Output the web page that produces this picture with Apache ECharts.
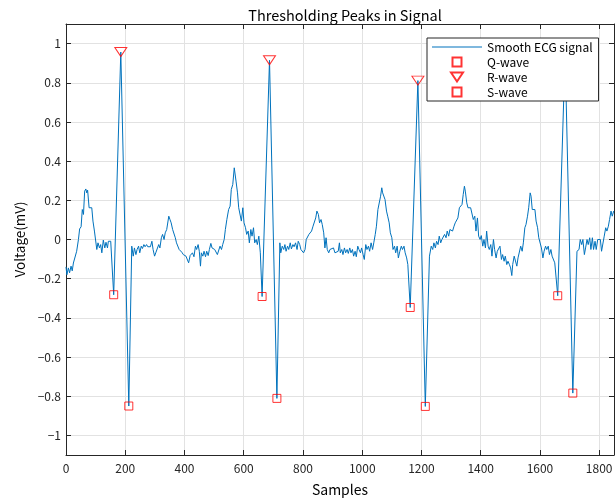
<!DOCTYPE html>
<html><head><meta charset="utf-8">
<script src="https://cdn.jsdelivr.net/npm/echarts@6/dist/echarts.min.js"></script>
<style>html,body{margin:0;padding:0;background:#fff}#c{width:615px;height:498px}</style>
</head><body><div id="c"></div>
<script>
const sampleIdx = [0,3,8,12,17,21,25,30,36,42,46,51,55,59,63,67,70,73,78,82,87,91,96,100,104,108,113,117,121,126,131,135,140,143,148,151,155,161,185,212,222,
227,231,236,240,245,249,254,258,263,267,272,276,281,285,290,294,299,303,308,313,317,322,326,331,335,340,344,347,351,355,360,364,369,373,378,382,387,391,396,400,405,409,414,419,423,427,432,437,441,
446,450,454,457,462,466,471,475,480,484,489,493,498,502,507,511,516,520,525,529,534,538,543,545,549,554,558,563,568,571,574,579,583,588,592,597,601,606,610,615,619,624,628,633,637,642,646,651,656,662,687,712,722,
725,730,735,739,743,748,752,757,761,766,770,775,780,784,789,793,798,802,807,811,816,820,825,829,834,838,843,847,852,856,861,865,870,874,878,882,887,891,897,903,908,914,
919,923,926,931,935,940,944,949,953,958,962,967,971,976,980,985,989,994,998,1003,1007,1012,1016,1021,1025,1030,1035,1039,1044,1048,1053,1057,1062,1066,1069,1073,1077,1082,1086,1091,1095,1100,1104,1109,1113,1118,1122,1127,1132,1136,1141,1145,1150,1154,1162,1188,1213,1227,
1233,1238,1242,1247,1251,1256,1260,1265,1269,1274,1278,1283,1287,1292,1296,1301,1305,1310,1314,1319,1323,1328,1332,1337,1341,1345,1348,1353,1357,1362,
1366,1371,1375,1380,1384,1389,1393,1398,1402,1407,1411,1416,1420,1425,1429,1434,1438,1443,1447,1452,1456,1461,1465,1470,1474,1479,1483,1488,1492,1497,1501,1505,1508,1513,1517,1522,1526,1531,1535,1540,1544,1549,1553,1558,1562,1567,1570,1574,1578,1583,1587,1592,1596,1601,1605,1610,1614,1619,1623,1628,1632,1637,1641,1646,1650,1660,1685,1711,1725,
1732,1736,1741,1745,1750,1754,1759,1763,1768,1772,1777,1781,1786,1790,1795,1799,1804,1808,1813,1817,1822,1826,1831,1835,1840,1844,1849];

const ecgValues = [-0.14,-0.18,-0.145,-0.17,-0.136,-0.16,-0.12,-0.11,-0.06,0,0.054,0.065,0.153,0.128,0.247,0.258,0.238,0.252,0.162,0.153,0.162,0.094,0.043,0.037,-0.051,-0.017,-0.043,-0.026,-0.068,-0.003,-0.043,-0.014,-0.043,-0.009,-0.017,-0.009,-0.12,-0.282,0.957,-0.85,-0.034,
-0.085,-0.043,-0.077,-0.051,-0.034,-0.068,-0.034,-0.046,-0.026,-0.037,-0.026,-0.037,-0.031,-0.037,-0.009,-0.051,-0.085,-0.068,-0.06,-0.026,-0.043,0.009,0.026,0,0.034,0.051,0.051,0.119,0.102,0.085,0.051,0.06,0.009,-0.017,-0.014,-0.051,-0.043,-0.065,-0.077,-0.072,-0.085,-0.082,-0.119,-0.082,-0.085,-0.068,-0.088,-0.034,-0.051,
-0.026,-0.06,-0.136,-0.068,-0.085,-0.06,-0.088,-0.06,-0.082,-0.051,-0.02,-0.043,-0.034,-0.051,-0.048,-0.077,-0.082,-0.034,-0.051,-0.026,0,0.051,0.102,0.099,0.153,0.17,0.255,0.281,0.366,0.357,0.298,0.238,0.162,0.153,0.094,0.162,0.085,0.06,0.026,0.043,-0.017,0.051,0.017,0.06,-0.017,0,-0.026,0.017,-0.068,-0.291,0.915,-0.811,-0.017,
-0.068,-0.034,-0.051,-0.026,-0.06,-0.034,-0.051,-0.017,-0.048,-0.026,-0.037,-0.017,-0.051,-0.009,-0.026,-0.051,-0.043,-0.068,-0.051,0,0.009,0.026,0.017,0.043,0.068,0.071,0.11,0.145,0.128,0.085,0.102,0.077,0.034,-0.043,0.009,-0.051,-0.068,-0.051,-0.06,-0.043,-0.068,-0.06,
-0.06,-0.017,-0.068,-0.051,-0.077,-0.043,-0.068,-0.051,-0.071,-0.043,-0.068,-0.051,-0.085,-0.06,-0.088,-0.034,-0.051,-0.068,-0.043,-0.077,-0.102,-0.026,-0.051,-0.034,-0.06,-0.017,-0.051,-0.017,0.026,0.068,0.153,0.145,0.221,0.264,0.238,0.247,0.204,0.145,0.119,0.085,0.034,0.009,-0.051,-0.034,-0.068,-0.034,-0.094,-0.06,-0.034,-0.051,-0.034,-0.068,-0.094,-0.128,-0.347,0.811,-0.852,-0.085,
-0.034,-0.051,-0.017,-0.043,-0.009,-0.026,0.017,-0.017,0,-0.009,0.026,0.009,0.043,0.017,0.051,0.06,0.043,0.068,0.085,0.077,0.11,0.162,0.153,0.179,0.23,0.272,0.247,0.187,0.162,0.162,
0.162,0.153,0.102,0.119,0.043,0.11,0.017,0,0.02,-0.034,0,-0.043,0.043,-0.034,-0.051,-0.026,-0.085,0,-0.051,-0.094,-0.06,-0.068,-0.034,-0.102,-0.077,-0.111,-0.085,-0.128,-0.111,-0.128,-0.145,-0.184,-0.128,-0.085,-0.085,-0.136,-0.094,-0.102,-0.034,-0.06,-0.017,0.06,0.077,0.119,0.162,0.238,0.221,0.153,0.162,0.153,0.094,0.06,0.009,0,-0.043,-0.094,-0.06,-0.034,-0.051,-0.034,-0.077,-0.051,-0.085,-0.094,-0.119,-0.287,0.95,-0.784,-0.06,
-0.051,0,-0.026,0,-0.077,-0.043,0,-0.026,0.009,-0.051,0.009,-0.051,-0.009,-0.051,0,0.009,0,-0.06,-0.068,0.017,0.06,0.043,0.068,0.102,0.145,0.119,0.145];

const qIdx = [161, 662, 1162, 1660];
const qVal = [-0.282, -0.291, -0.347, -0.287];
const rIdx = [185, 687, 1188, 1685];
const rVal = [0.957, 0.915, 0.811, 0.95];
const sIdx = [212, 712, 1213, 1711];
const sVal = [-0.85, -0.811, -0.852, -0.784];

const xTicks = [0, 200, 400, 600, 800, 1000, 1200, 1400, 1600, 1800];
const yTicks = [-1, -0.8, -0.6, -0.4, -0.2, 0, 0.2, 0.4, 0.6, 0.8, 1];
const seriesNames = ['Smooth ECG signal', 'Q-wave', 'R-wave', 'S-wave'];

const FONT = '"Noto Sans CJK JP", "Noto Sans", sans-serif';
const AX = '#262626';
const SQUARE = 'path://M0,0L10,0L10,10L0,10Z';
const TRI_DOWN = 'path://M0,0L12,0L6,9Z';
const LINE_ICON = 'path://M0,0L50,0L50,1L0,1Z';
const pairs = (xs, ys) => xs.map((x, i) => [x, ys[i]]);
const fmtY = v => String(v).replace('-', '\u2212');
const fmtX = v => String(v);

const chart = echarts.init(document.getElementById('c'), null, {renderer: 'canvas'});
const markerStyle = {color: 'rgba(0,0,0,0)', borderColor: '#ff0000', borderWidth: 1};
const baseX = {
  type: 'value', min: 0, max: 1850, interval: 200,
  axisLine: {show: true, onZero: false, lineStyle: {color: AX, width: 1}},
  axisTick: {show: true, inside: true, length: 5, customValues: xTicks, lineStyle: {color: AX}},
};
const baseY = {
  type: 'value', min: -1.1, max: 1.1,
  axisLine: {show: true, onZero: false, lineStyle: {color: AX, width: 1}},
  axisTick: {show: true, inside: true, length: 5, customValues: yTicks, lineStyle: {color: AX}},
};
chart.setOption({
  animation: false,
  backgroundColor: '#fff',
  title: {
    text: 'Thresholding Peaks in Signal', left: 340, top: 3, textAlign: 'center',
    textStyle: {fontFamily: FONT, fontSize: 14.5, fontWeight: 'normal', color: '#000'}
  },
  grid: {left: 66, right: 1, top: 24, bottom: 43, containLabel: false, outerBoundsMode: 'none'},
  xAxis: [
    Object.assign({}, baseX, {
      position: 'bottom',
      axisLabel: {show: true, customValues: xTicks, formatter: fmtX, color: AX, fontFamily: FONT, fontSize: 12, margin: 7},
      splitLine: {show: true, lineStyle: {color: '#e2e2e2', width: 1}},
      name: 'Samples', nameLocation: 'middle', nameGap: 28,
      nameTextStyle: {fontFamily: FONT, fontSize: 14, color: '#000'}
    }),
    Object.assign({}, baseX, {position: 'top', axisLabel: {show: false}, splitLine: {show: false}})
  ],
  yAxis: [
    Object.assign({}, baseY, {
      position: 'left',
      axisLabel: {show: true, customValues: yTicks, color: AX, fontFamily: FONT, fontSize: 12, margin: 5, formatter: fmtY},
      splitLine: {show: true, lineStyle: {color: '#e2e2e2', width: 1}},
      name: 'Voltage(mV)', nameLocation: 'middle', nameGap: 36, nameRotate: 90,
      nameTextStyle: {fontFamily: FONT, fontSize: 13.5, color: '#000'}
    }),
    Object.assign({}, baseY, {position: 'right', axisLabel: {show: false}, splitLine: {show: false}})
  ],
  legend: {
    orient: 'vertical', left: 427, top: 38,
    itemWidth: 50, itemHeight: 9, itemGap: 0,
    padding: [1.5, 6, 1.5, 5],
    backgroundColor: '#fff', borderColor: AX, borderWidth: 1, borderRadius: 0,
    selectedMode: false, z: 10, symbolKeepAspect: true,
    textStyle: {fontFamily: FONT, fontSize: 12, color: '#000', lineHeight: 15},
    data: [
      {name: seriesNames[0], icon: LINE_ICON, itemStyle: {color: '#0072BD', borderWidth: 0}},
      {name: seriesNames[1], icon: SQUARE},
      {name: seriesNames[2], icon: TRI_DOWN},
      {name: seriesNames[3], icon: SQUARE}
    ]
  },
  series: [
    {
      name: seriesNames[0], type: 'line', data: pairs(sampleIdx, ecgValues),
      symbol: 'none', lineStyle: {color: '#0072BD', width: 1}, itemStyle: {color: '#0072BD'}, z: 2
    },
    {
      name: seriesNames[1], type: 'scatter', data: pairs(qIdx, qVal),
      symbol: SQUARE, symbolSize: 8, itemStyle: markerStyle, z: 3
    },
    {
      name: seriesNames[2], type: 'scatter', data: pairs(rIdx, rVal),
      symbol: TRI_DOWN, symbolSize: [12, 9], itemStyle: markerStyle, z: 3
    },
    {
      name: seriesNames[3], type: 'scatter', data: pairs(sIdx, sVal),
      symbol: SQUARE, symbolSize: 8, itemStyle: markerStyle, z: 3
    }
  ]
});
</script></body></html>
